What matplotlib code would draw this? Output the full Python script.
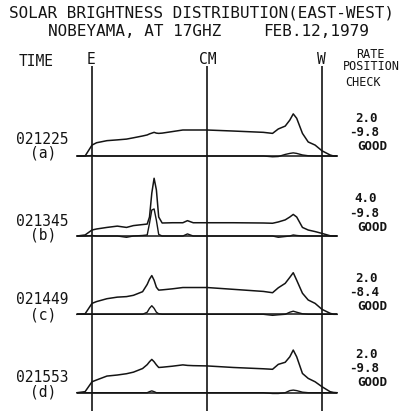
import matplotlib
matplotlib.use("Agg")
import matplotlib.pyplot as plt
import numpy as np

# ---- data (position in solar radii, E=-1, CM=0, W=+1; brightness in % of disk centre, as plotted)
x_pos = [-1.13, -1.06, -1.00, -0.96, -0.87, -0.78, -0.70, -0.64, -0.56, -0.52,
         -0.50, -0.48, -0.46, -0.44, -0.42, -0.39, -0.30, -0.21, -0.17, -0.12,
         0.00, 0.23, 0.49, 0.57, 0.62, 0.68, 0.72, 0.75, 0.78, 0.83,
         0.88, 0.94, 1.00, 1.07, 1.10, 1.13]

upper_a = [0, 0, 42, 51, 59, 62, 65, 70, 77, 81, 85, 88, 91, 88, 87, 88, 94, 100, 100, 100,
           100, 96, 91, 87, 104, 115, 138, 162, 145, 87, 54, 42, 20, 4, 0, 0]
lower_a = [0, 0, 2, 0, 0, 0, 0, 0, 0, 0, 0, 0, 0, 0, 0, 0, 0, 0, 0, 0,
           0, 0, 0, -3, -2, 6, 10, 12, 10, 4, 1, 0, 0, 0, 0, 0]
upper_b = [0, 4, 23, 27, 33, 38, 33, 40, 44, 46, 73, 165, 222, 177, 73, 50, 51, 51, 59, 51,
           51, 51, 50, 49, 54, 62, 73, 83, 73, 33, 23, 17, 10, 1, 0, 0]
lower_b = [0, 0, 2, 0, 0, 0, -5, 0, 2, 4, 49, 100, 104, 60, 6, 0, 0, 0, 8, 0,
           0, 0, 0, 0, -5, -2, 0, 4, 2, 0, 0, 0, 0, 0, 0, 0]
upper_c = [0, 2, 42, 49, 60, 66, 68, 73, 87, 115, 135, 149, 131, 104, 93, 94, 98, 103, 103, 103,
           103, 96, 88, 83, 102, 119, 142, 160, 131, 81, 55, 42, 19, 4, 0, 0]
lower_c = [0, 0, 0, 0, 0, 0, 0, 0, 0, 8, 23, 33, 23, 8, 2, 0, 0, 0, 0, 0,
           0, 0, 0, -4, -2, 0, 8, 12, 8, 2, 0, 0, 0, 0, 0, 0]
upper_d = [0, 4, 42, 49, 64, 68, 73, 79, 93, 108, 119, 128, 119, 107, 97, 98, 102, 107, 105, 104,
           103, 97, 92, 90, 109, 117, 138, 164, 138, 74, 55, 42, 23, 4, 1, 0]
lower_d = [0, 0, 0, 0, 0, 0, 0, 0, 0, 0, 4, 7, 4, 0, 0, 0, 0, 0, 0, 0,
           0, 0, 0, -3, -3, 0, 8, 10, 8, 2, 0, 0, 0, 0, 0, 0]

times = ["021225", "021345", "021449", "021553"]
panels = ["(a)", "(b)", "(c)", "(d)"]
rates = ["2.0", "4.0", "2.0", "2.0"]
positions = ["-9.8", "-9.8", "-8.4", "-9.8"]
checks = ["GOOD", "GOOD", "GOOD", "GOOD"]
limb_labels = ["E", "CM", "W"]
limb_x = [-1.0, 0.0, 1.0]

uppers = [upper_a, upper_b, upper_c, upper_d]
lowers = [lower_a, lower_b, lower_c, lower_d]

# ---- layout
W, H = 403, 411
PX_PER_UNIT_X = 115.0
PX_PER_PCT = 26.0 / 100.0
baseline_px = [156, 236, 314.3, 392.7]
offsets = [(H - b) / PX_PER_PCT for b in baseline_px]

fig = plt.figure(figsize=(W / 100, H / 100), dpi=100)
ax = fig.add_axes([0, 0, 1, 1])
ax.set_xlim(-207 / PX_PER_UNIT_X, (W - 207) / PX_PER_UNIT_X)
ax.set_ylim(0, H / PX_PER_PCT)
ax.axis("off")

ink = "#141414"
mono = "DejaVu Sans Mono"

# vertical E / CM / W lines
top_y = (H - 66) / PX_PER_PCT
ax.vlines(limb_x, 0, top_y, color=ink, lw=1.2)

x = np.array(x_pos)
for off, up, lo in zip(offsets, uppers, lowers):
    ax.hlines(off, x[0], x[-1], color=ink, lw=1.1)
    ax.plot(x, off + np.array(lo), color=ink, lw=1.0)
    ax.plot(x, off + np.array(up), color=ink, lw=1.1)


def ptext(px, py, s, size, ha="center", weight="normal"):
    fig.text(px / W, 1 - py / H, s, ha=ha, va="center", fontsize=size,
             family=mono, weight=weight, color=ink)


ptext(202, 13, "SOLAR BRIGHTNESS DISTRIBUTION(EAST-WEST)", 11.5)
ptext(48, 32, "NOBEYAMA, AT 17GHZ", 11.5, ha="left")
ptext(263, 32, "FEB.12,1979", 11.5, ha="left")

ptext(36, 61, "TIME", 10.5)
for lab, lx in zip(limb_labels, [91.5, 207.5, 321]):
    ptext(lx, 60, lab, 10.5)

ptext(370, 54, "RATE", 8.5)
ptext(371, 67, "POSITION", 8.5)
ptext(363, 82, "CHECK", 8.5)

time_py = [139, 221, 299, 377]
panel_py = [153, 235, 315, 392]
rate_py = [118, 199, 278, 354]
for i in range(4):
    ptext(42, time_py[i], times[i], 10.5)
    ptext(43, panel_py[i], panels[i], 10.5)
    ptext(366, rate_py[i], rates[i], 9, weight="bold")
    ptext(364, rate_py[i] + 14, positions[i], 9, weight="bold")
    ptext(372, rate_py[i] + 28, checks[i], 9, weight="bold")

fig.savefig("out.png", dpi=100, facecolor="white")
